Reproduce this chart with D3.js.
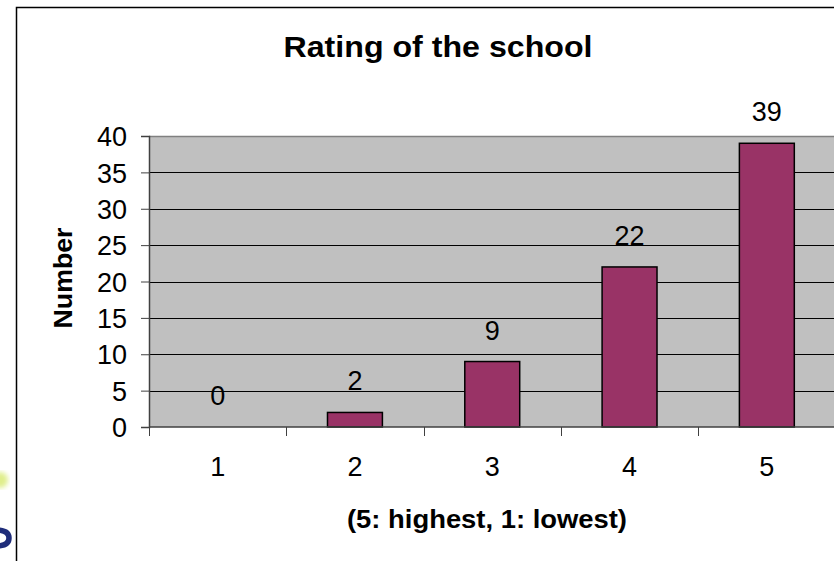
<!DOCTYPE html>
<html><head><meta charset="utf-8">
<script src="https://cdn.jsdelivr.net/npm/d3@7"></script>
<style>
html,body{margin:0;padding:0;background:#fff;overflow:hidden}
text{font-family:"Liberation Sans",Arial,sans-serif;fill:#000}
</style></head>
<body>
<svg id="c" width="834" height="561"></svg>
<script>
const categories = ["1","2","3","4","5"];
const values = [0, 2, 9, 22, 39];
const yTicks = [0,5,10,15,20,25,30,35,40];
const title = "Rating of the school";
const xTitle = "(5: highest, 1: lowest)";
const yTitle = "Number";

const svg = d3.select("#c");
const plot = {left:149, top:136, right:835.5, bottom:427};

// outer frame
svg.append("rect").attr("x",16.5).attr("y",7.5).attr("width",900).attr("height",600)
  .attr("fill","#fff").attr("stroke","#000").attr("stroke-width",1.5);

// logo fragments at left (decorative shapes)
const defs = svg.append("defs");
defs.append("filter").attr("id","blur").append("feGaussianBlur").attr("stdDeviation",2.5);
svg.append("circle").attr("cx",0).attr("cy",480).attr("r",8).attr("fill","#dfee8a").attr("filter","url(#blur)");
svg.append("path").attr("d","M -4 530 Q 9 530 9 538 Q 9 546 -4 546")
  .attr("fill","none").attr("stroke","#1f2d7a").attr("stroke-width",5.5);

const x = d3.scaleBand().domain(categories).range([plot.left, plot.right]).paddingInner(0.6).paddingOuter(0.3);
const xb = d3.scaleBand().domain(categories).range([plot.left, plot.right]);
const y = d3.scaleLinear().domain([0,40]).range([plot.bottom, plot.top]);

// plot background
svg.append("rect").attr("x",plot.left).attr("y",plot.top)
  .attr("width",plot.right-plot.left).attr("height",plot.bottom-plot.top).attr("fill","#c0c0c0");

// gridlines
svg.append("g").selectAll("line").data(yTicks.filter(t=>t>0 && t<40)).join("line")
  .attr("x1",plot.left).attr("x2",plot.right)
  .attr("y1",d=>Math.round(y(d))+0.5).attr("y2",d=>Math.round(y(d))+0.5)
  .attr("stroke","#000").attr("stroke-width",1);
svg.append("line").attr("x1",plot.left).attr("x2",plot.right)
  .attr("y1",Math.round(y(40))+0.5).attr("y2",Math.round(y(40))+0.5)
  .attr("stroke","#808080").attr("stroke-width",1.5);

// bars
svg.append("g").selectAll("rect").data(values).join("rect")
  .attr("x",(d,i)=>x(categories[i])).attr("width",x.bandwidth())
  .attr("y",d=>y(d)).attr("height",d=>y(0)-y(d))
  .attr("fill","#993366").attr("stroke","#000").attr("stroke-width",1.5);

// y axis
const yAxis = d3.axisLeft(y).tickValues(yTicks).tickSize(8).tickPadding(14).tickFormat(d3.format("d"));
const gy = svg.append("g").attr("transform",`translate(${plot.left},0)`).call(yAxis);
gy.select(".domain").attr("stroke","#404040").attr("stroke-width",1.5);
gy.selectAll(".tick line").attr("stroke","#404040");
gy.selectAll(".tick text").attr("font-size",27).attr("font-family","Liberation Sans, Arial, sans-serif").attr("dy","0.36em");

// x axis
const gx = svg.append("g").attr("transform",`translate(0,${plot.bottom})`);
gx.append("line").attr("x1",plot.left).attr("x2",plot.right).attr("y1",0).attr("y2",0)
  .attr("stroke","#404040").attr("stroke-width",1.5);
const bounds = categories.map(c=>xb(c)).concat([xb(categories[categories.length-1])+xb.bandwidth()]);
gx.selectAll("line.tk").data(bounds).join("line").attr("class","tk")
  .attr("x1",d=>Math.round(d)+0.5).attr("x2",d=>Math.round(d)+0.5).attr("y1",0).attr("y2",9)
  .attr("stroke","#404040");
gx.selectAll("text").data(categories).join("text")
  .attr("x",d=>xb(d)+xb.bandwidth()/2).attr("y",49).attr("text-anchor","middle")
  .attr("font-size",27).text(d=>d);

// data labels
svg.append("g").selectAll("text").data(values).join("text")
  .attr("x",(d,i)=>x(categories[i])+x.bandwidth()/2).attr("y",d=>y(d)-22)
  .attr("text-anchor","middle").attr("font-size",27).text(d=>d);

// titles
svg.append("text").attr("x",438).attr("y",57).attr("text-anchor","middle")
  .attr("font-size",29).attr("font-weight","bold")
  .attr("textLength",309).attr("lengthAdjust","spacingAndGlyphs").text(title);
svg.append("text").attr("x",487).attr("y",528).attr("text-anchor","middle")
  .attr("font-size",25).attr("font-weight","bold")
  .attr("textLength",280).attr("lengthAdjust","spacingAndGlyphs").text(xTitle);
svg.append("text").attr("transform","translate(72,278) rotate(-90)").attr("text-anchor","middle")
  .attr("font-size",26).attr("font-weight","bold")
  .attr("textLength",101).attr("lengthAdjust","spacingAndGlyphs").text(yTitle);
</script>
</body></html>
